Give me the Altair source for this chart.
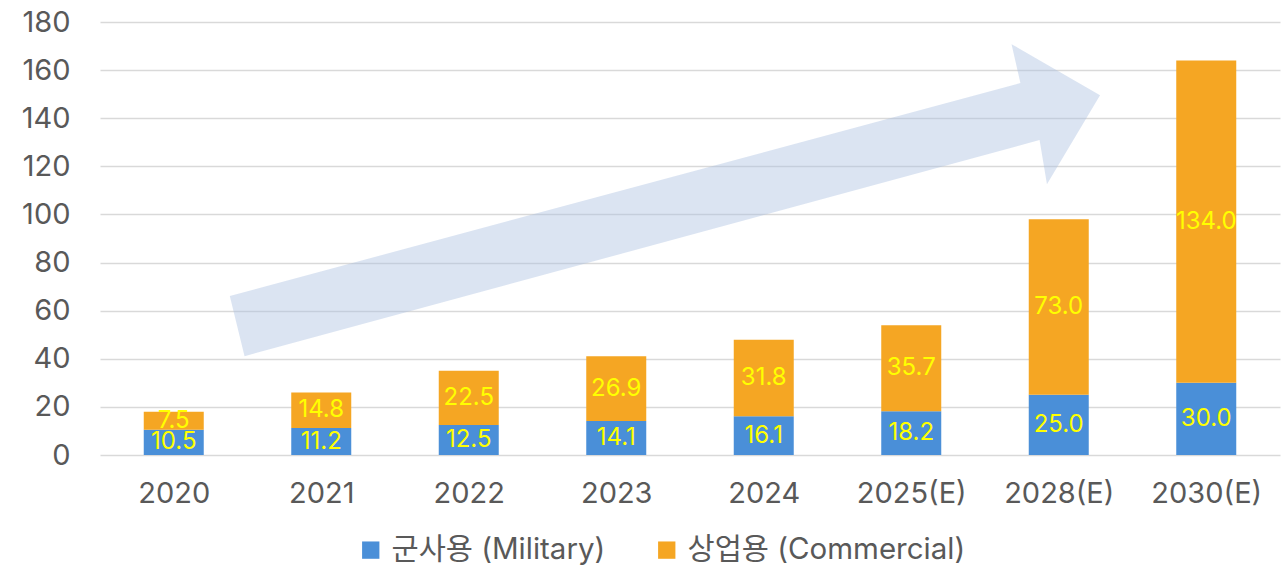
import altair as alt
import pandas as pd

years = ["2020", "2021", "2022", "2023", "2024", "2025(E)", "2028(E)", "2030(E)"]
military = [10.5, 11.2, 12.5, 14.1, 16.1, 18.2, 25.0, 30.0]
commercial = [7.5, 14.8, 22.5, 26.9, 31.8, 35.7, 73.0, 134.0]
series = ["군사용 (Military)", "상업용 (Commercial)"]
colors = ["#4a8fd8", "#f5a623"]

# decorative arrow outline (x in category units, y in value units)
arrow_x = [0.88, 6.24, 6.18, 6.78, 6.42, 6.37, 0.98]
arrow_y = [66.1, 154.6, 170.8, 149.6, 112.6, 130.9, 41.1]

FONT = "Inter, 'Noto Sans CJK KR', sans-serif"

rows = []
for i, y in enumerate(years):
    rows.append({"pos": i + 0.5, "year": y, "series": series[0], "value": military[i],
                 "order": 0, "mid": military[i] / 2})
    rows.append({"pos": i + 0.5, "year": y, "series": series[1], "value": commercial[i],
                 "order": 1, "mid": military[i] + commercial[i] / 2})
df = pd.DataFrame(rows)
arrow_df = pd.DataFrame({"pos": arrow_x, "value": arrow_y, "k": list(range(len(arrow_x)))})

xscale = alt.Scale(domain=[0, len(years)], nice=False, zero=False, padding=0)
yscale = alt.Scale(domain=[0, 180], nice=False)
year_js = "[" + ",".join("'" + y + "'" for y in years) + "]"

x_axis = alt.Axis(values=[i + 0.5 for i in range(len(years))],
                  labelExpr=year_js + "[floor(datum.value)]",
                  labelAngle=0, labelFontSize=29, labelColor="#595959", labelFont=FONT,
                  ticks=False, domain=False, labelPadding=24, grid=False)
y_axis = alt.Axis(values=list(range(0, 181, 20)), labelFontSize=29, labelColor="#595959",
                  labelFont=FONT, ticks=False, domain=False, labelPadding=30,
                  grid=True, gridColor="#d9d9d9", gridWidth=1.5)

arrow = alt.Chart(arrow_df).mark_line(
    filled=True, fill="#aabfe0", fillOpacity=0.42, strokeWidth=0, interpolate="linear-closed"
).encode(
    x=alt.X("pos:Q", scale=xscale, axis=x_axis, title=None),
    y=alt.Y("value:Q", scale=yscale, axis=y_axis, title=None),
    order="k:O",
)

bars = alt.Chart(df).mark_bar(width=60).encode(
    x=alt.X("pos:Q", scale=xscale, title=None),
    y=alt.Y("value:Q", stack="zero", scale=yscale, title=None),
    color=alt.Color("series:N", scale=alt.Scale(domain=series, range=colors),
                    legend=alt.Legend(title=None, orient="none", direction="horizontal",
                                      legendX=256, legendY=433 + 80,
                                      symbolType="square", symbolSize=300, symbolStrokeWidth=0,
                                      labelFontSize=29.5, labelColor="#595959", labelFont=FONT,
                                      labelLimit=0, columnPadding=46, labelOffset=6)),
    order=alt.Order("order:Q"),
)

labels = alt.Chart(df).mark_text(fontSize=24, color="#ffff00", font=FONT).encode(
    x=alt.X("pos:Q", scale=xscale, title=None),
    y=alt.Y("mid:Q", scale=yscale, title=None),
    text=alt.Text("value:Q", format=".1f"),
)

chart = alt.layer(arrow, bars, labels).properties(
    width=1180, height=433,
    autosize=alt.AutoSizeParams(type="none"),
    padding={"left": 100, "top": 22, "right": 1, "bottom": 110},
).configure_view(stroke=None)

chart.save("out.html", embed_options={"renderer": "svg", "actions": False})
